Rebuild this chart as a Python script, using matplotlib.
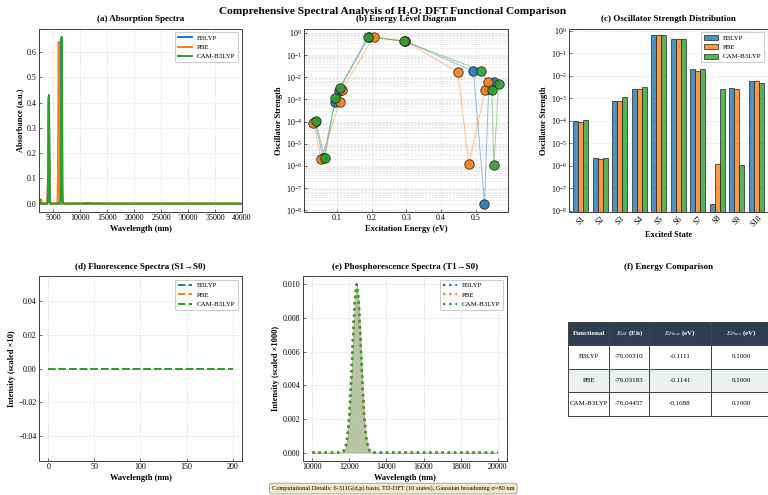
import numpy as np
import matplotlib
matplotlib.use("Agg")
import matplotlib.pyplot as plt

plt.rcParams['font.family'] = ['Liberation Serif', 'DejaVu Serif']
plt.rcParams['mathtext.fontset'] = 'stix'
plt.rcParams['axes.edgecolor'] = '#444444'
plt.rcParams['axes.linewidth'] = 1.5
plt.rcParams['xtick.direction'] = 'in'
plt.rcParams['ytick.direction'] = 'in'
plt.rcParams['xtick.major.size'] = 5
plt.rcParams['ytick.major.size'] = 5
plt.rcParams['xtick.labelsize'] = 12
plt.rcParams['ytick.labelsize'] = 12

# ---------------- data ----------------
functionals = ['B3LYP', 'PBE', 'CAM-B3LYP']
colors = ['#1f77b4', '#ff7f0e', '#2ca02c']
states = ['S1', 'S2', 'S3', 'S4', 'S5', 'S6', 'S7', 'S8', 'S9', 'S10']

energies_b3lyp = [0.035, 0.060, 0.093, 0.104, 0.192, 0.295, 0.493, 0.525, 0.537, 0.552]
energies_pbe = [0.031, 0.054, 0.107, 0.113, 0.205, 0.297, 0.448, 0.480, 0.527, 0.535]
energies_cam = [0.038, 0.064, 0.095, 0.108, 0.188, 0.293, 0.515, 0.546, 0.552, 0.566]

osc_b3lyp = [1.0e-4, 2.3e-6, 7.5e-4, 2.5e-3, 0.65, 0.42, 1.9e-2, 2.0e-8, 3.0e-3, 5.8e-3]
osc_pbe = [9.0e-5, 2.1e-6, 7.5e-4, 2.6e-3, 0.64, 0.41, 1.7e-2, 1.2e-6, 2.6e-3, 6.0e-3]
osc_cam = [1.1e-4, 2.2e-6, 1.15e-3, 3.3e-3, 0.66, 0.43, 2.0e-2, 2.6e-3, 1.1e-6, 4.8e-3]

e_gs = [-76.09310, -76.03183, -76.04457]
e_fluor = [-0.1111, -0.1141, -0.1088]
e_phos = [0.1000, 0.1000, 0.1000]

fluor_intensity = [0.0, 0.0, 0.0]    # scaled x10, flat spectra
phos_peak = [0.010, 0.010, 0.010]    # scaled x1000

broadening_sigma = 80.0   # nm (absorption)
phos_sigma = 230.0        # nm (visual width of phosphorescence band)

energies = [energies_b3lyp, energies_pbe, energies_cam]
oscs = [osc_b3lyp, osc_pbe, osc_cam]

HC = 1239.84

fig = plt.figure(figsize=(16.02, 10.3125), dpi=48)

W, H = 769.0, 495.0
def rect(l, t, r, b):
    return [l / W, 1 - b / H, (r - l) / W, (b - t) / H]

ax_a = fig.add_axes(rect(39, 28.5, 242, 212))
ax_b = fig.add_axes(rect(304, 28.5, 508, 212))
ax_c = fig.add_axes(rect(569, 28.5, 768, 212))
ax_d = fig.add_axes(rect(39, 276, 242, 461))
ax_e = fig.add_axes(rect(303, 276, 507, 461))
ax_f = fig.add_axes(rect(569, 276, 768, 461))

title_kw = dict(fontsize=13.5, fontweight='bold', pad=11)
label_kw = dict(fontsize=12.5, fontweight='bold')
grid_kw = dict(linestyle='--', color='#cccccc', alpha=0.6, linewidth=1)
leg_kw = dict(loc='upper right', fontsize=10.5, framealpha=0.9, edgecolor='#aaaaaa')

# (a) absorption
wl = np.linspace(2400, 40000, 8000)
for name, col, en, f in zip(functionals, colors, energies, oscs):
    lam = HC / np.array(en)
    spec = np.zeros_like(wl)
    for l0, fi in zip(lam, f):
        spec += fi * np.exp(-0.5 * ((wl - l0) / broadening_sigma) ** 2)
    ax_a.plot(wl, spec, color=col, lw=3, label=name)
ax_a.set_xlim(wl.min(), wl.max())
ax_a.set_title('(a) Absorption Spectra', **title_kw)
ax_a.set_xlabel('Wavelength (nm)', **label_kw)
ax_a.set_ylabel('Absorbance (a.u.)', **label_kw)
ax_a.grid(True, **grid_kw)
ax_a.legend(**leg_kw)

# (b) energy level diagram
for name, col, en, f in zip(functionals, colors, energies, oscs):
    ax_b.plot(en, f, color=col, lw=1.5, alpha=0.45, zorder=2)
    ax_b.scatter(en, f, s=200, color=col, edgecolors='#222222', linewidths=1.3,
                 alpha=0.9, zorder=3, label=name)
ax_b.set_yscale('log')
ax_b.set_title('(b) Energy Level Diagram', **title_kw)
ax_b.set_xlabel('Excitation Energy (eV)', **label_kw)
ax_b.set_ylabel('Oscillator Strength', **label_kw)
ax_b.grid(True, which='both', **grid_kw)

# (c) oscillator strength bars
x = np.arange(len(states))
bw = 0.25
for i, (name, col, f) in enumerate(zip(functionals, colors, oscs)):
    ax_c.bar(x + (i - 1) * bw, f, bw, color=col, alpha=0.8, edgecolor='#222222',
             linewidth=1.3, label=name)
ax_c.set_yscale('log')
ax_c.set_ylim(9e-9, 1.25)
ax_c.set_xlim(-0.6, 9.6)
ax_c.set_xticks(x)
ax_c.set_xticklabels(states, rotation=45)
ax_c.set_title('(c) Oscillator Strength Distribution', **title_kw)
ax_c.set_xlabel('Excited State', **label_kw)
ax_c.set_ylabel('Oscillator Strength', **label_kw)
ax_c.grid(True, axis='y', **grid_kw)
ax_c.set_axisbelow(True)
ax_c.legend(**leg_kw)

# (d) fluorescence
fl_wl = np.arange(0, 201)
for name, col, val in zip(functionals, colors, fluor_intensity):
    ax_d.plot(fl_wl, np.full(fl_wl.shape, val), color=col, lw=3, ls='--', label=name)
ax_d.set_title('(d) Fluorescence Spectra (S1→S0)', **title_kw)
ax_d.set_xlabel('Wavelength (nm)', **label_kw)
ax_d.set_ylabel('Intensity (scaled ×10)', **label_kw)
ax_d.grid(True, **grid_kw)
ax_d.legend(**leg_kw)

# (e) phosphorescence
ph_wl = np.linspace(10000, 20000, 101)
for name, col, ep, pk in zip(functionals, colors, e_phos, phos_peak):
    l0 = HC / ep
    spec = pk * np.exp(-0.5 * ((ph_wl - l0) / phos_sigma) ** 2)
    ax_e.plot(ph_wl, spec, color=col, lw=3.5, ls=':', label=name)
    ax_e.fill_between(ph_wl, spec, color=col, alpha=0.2)
ax_e.set_title('(e) Phosphorescence Spectra (T1→S0)', **title_kw)
ax_e.set_xlabel('Wavelength (nm)', **label_kw)
ax_e.set_ylabel('Intensity (scaled ×1000)', **label_kw)
ax_e.grid(True, **grid_kw)
ax_e.legend(**leg_kw)

# (f) table
ax_f.axis('off')
ax_f.set_title('(f) Energy Comparison', **title_kw)
col_labels = ['Functional', '$E_{GS}$ (Eh)', '$E_{Fluor}$ (eV)', '$E_{Phos}$ (eV)']
cell_text = [[n, f'{g:.5f}', f'{fl:.4f}', f'{ph:.4f}']
             for n, g, fl, ph in zip(functionals, e_gs, e_fluor, e_phos)]
cw = np.array([41, 40, 61.3, 61.3])
cw = cw / 199.0
tbl = ax_f.table(cellText=cell_text, colLabels=col_labels, colWidths=list(cw),
                 cellLoc='center', bbox=[-0.003, 0.245, cw.sum(), 0.508])
tbl.auto_set_font_size(False)
for (r, c), cell in tbl.get_celld().items():
    cell.set_edgecolor('#444444')
    cell.set_linewidth(1.5)
    if r == 0:
        cell.set_facecolor('#2c3e50')
        cell.get_text().set_color('white')
        cell.get_text().set_fontweight('bold')
        cell.get_text().set_fontsize(10.5)
    else:
        cell.set_facecolor('#ecf0f1' if r == 2 else 'white')
        cell.get_text().set_fontsize(10.5)

fig.suptitle('Comprehensive Spectral Analysis of H₂O: DFT Functional Comparison',
             fontsize=17, fontweight='bold', x=0.511, y=0.976, va='center')

fig.text(0.5115, 0.013,
         'Computational Details: 6-311G(d,p) basis, TD-DFT (10 states), Gaussian broadening σ=80 nm',
         ha='center', va='center', fontsize=9.5,
         bbox=dict(boxstyle='round,pad=0.4', facecolor='wheat', alpha=0.7, edgecolor='#555555'))

fig.savefig('out.png', dpi=48)
